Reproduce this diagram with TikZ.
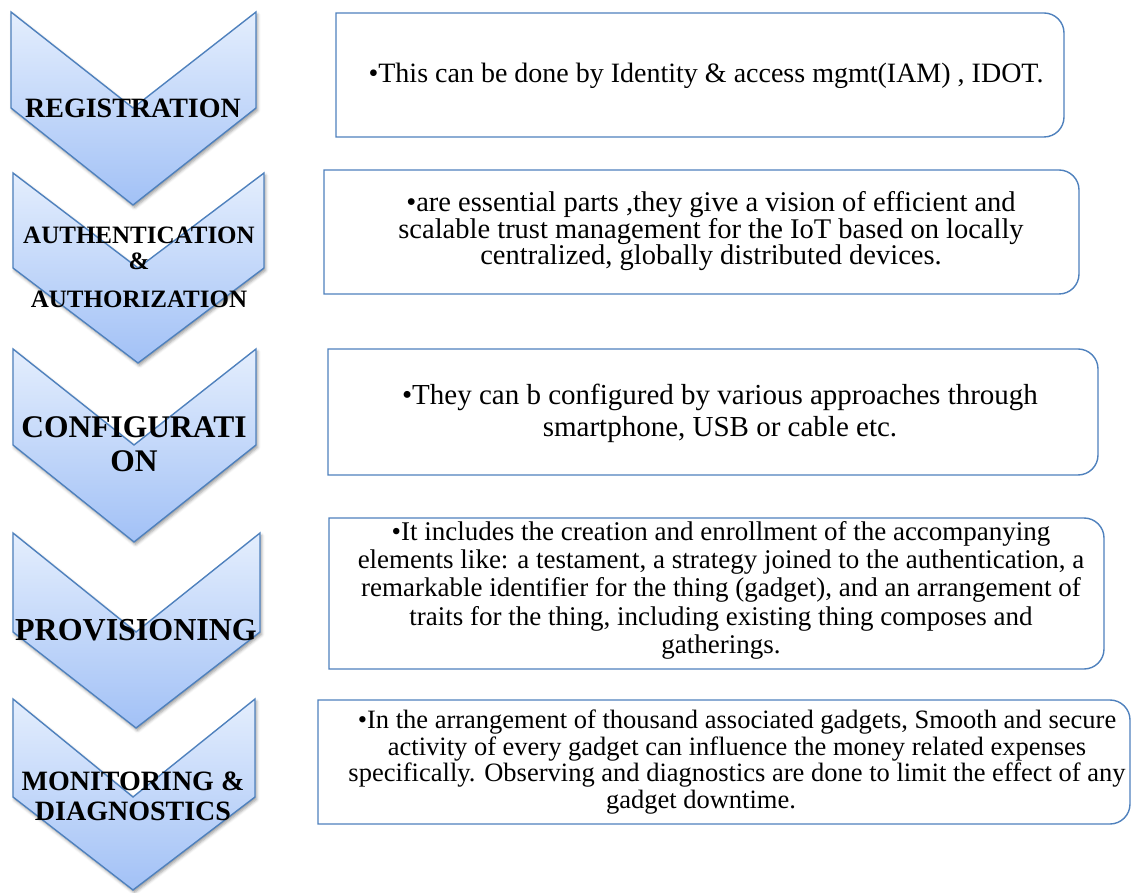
\documentclass[tikz,border=0pt]{standalone}
\usepackage{fontspec}
\setmainfont{Liberation Serif}
\usetikzlibrary{shadows.blur}

\definecolor{edgeblue}{HTML}{4F81BD}
\definecolor{chevtop}{HTML}{E4EEFD}
\definecolor{chevbottom}{HTML}{A2C1F6}

\tikzset{
  chevron/.style={draw=edgeblue, line width=1.4pt, line join=miter,
    top color=chevtop, bottom color=chevbottom,
    blur shadow={shadow xshift=1.5pt, shadow yshift=-2.5pt,
                 shadow blur radius=3pt, shadow opacity=40}},
  infobox/.style={draw=edgeblue, line width=1.4pt, fill=white},
  steplabel/.style={font=\bfseries\fontsize{#1}{#1}\selectfont,
    inner sep=0pt, anchor=base, text=black},
  paneltext/.style={font=\fontsize{#1}{#1}\selectfont,
    inner sep=0pt, anchor=base, text=black},
}

% chevron: left x, right x, middle x, top y, side-end y, tip y
\newcommand\chevronshape[6]{%
  \path[chevron] (#1,#4) -- (#3,#5) -- (#2,#4) -- (#2,#5) -- (#3,#6) -- (#1,#5) -- cycle;}

% text panel, square on the left and rounded on the right: left, right, top, bottom
\newcommand\infopanel[4]{%
  \path[infobox] (#1,#3) -- ({#2-20},#3) arc[start angle=90, end angle=0, radius=20]
    -- (#2,{#4+20}) arc[start angle=0, end angle=-90, radius=20] -- (#1,#4) -- cycle;}

\begin{document}
\begin{tikzpicture}[x=1pt, y=1pt]
\useasboundingbox (0,0) rectangle (1131,892);

% ---- chevrons ----
\chevronshape{11}{256}{133}{880}{784}{687}
\chevronshape{13}{264}{138}{719}{624}{529}
\chevronshape{13}{256}{134}{543}{447}{350}
\chevronshape{13}{260}{136}{359}{260}{164}
\chevronshape{13}{255}{133}{193}{95}{2}

\node[steplabel=28] (reg) at (133,774) {REGISTRATION};
\node[steplabel=25] (auth1) at (139,648) {AUTHENTICATION};
\node[steplabel=25] (auth2) at (139,622) {\&};
\node[steplabel=25] (auth3) at (139,584) {AUTHORIZATION};
\node[steplabel=31.5] (conf1) at (134,454) {CONFIGURATI};
\node[steplabel=31.5] (conf2) at (134,420) {ON};
\node[steplabel=32] (prov) at (136,252) {PROVISIONING};
\node[steplabel=28] (mon1) at (133,102) {MONITORING \&};
\node[steplabel=28] (mon2) at (133,72) {DIAGNOSTICS};

% ---- text panels ----
\infopanel{336}{1064}{879}{755}
\infopanel{324}{1079}{722}{598}
\infopanel{328}{1098}{543}{417}
\infopanel{329}{1104}{374}{223}
\infopanel{318}{1130}{192}{68}

\node[paneltext=28] (p1a) at (706,809) {•This can be done by Identity \& access mgmt(IAM) , IDOT.};

\node[paneltext=28.5] (p2a) at (711,680) {•are essential parts ,they give a vision of efficient and};
\node[paneltext=28.5] (p2b) at (711,653.5) {scalable trust management for the IoT based on locally};
\node[paneltext=28.5] (p2c) at (711,627) {centralized, globally distributed devices.};

\node[paneltext=29] (p3a) at (720,487) {•They can b configured by various approaches through};
\node[paneltext=29] (p3b) at (720,455) {smartphone, USB or cable etc.};

\node[paneltext=27] (p4a) at (721,352) {•It includes the creation and enrollment of the accompanying};
\node[paneltext=27] (p4b) at (721,324) {elements like: a testament, a strategy joined to the authentication, a};
\node[paneltext=27] (p4c) at (721,295.5) {remarkable identifier for the thing (gadget), and an arrangement of};
\node[paneltext=27] (p4d) at (721,267) {traits for the thing, including existing thing composes and};
\node[paneltext=27] (p4e) at (721,239) {gatherings.};

\node[paneltext=26.5] (p5a) at (737,164) {•In the arrangement of thousand associated gadgets, Smooth and secure};
\node[paneltext=26.5] (p5b) at (737,137) {activity of every gadget can influence the money related expenses};
\node[paneltext=26.5] (p5c) at (737,111) {specifically. Observing and diagnostics are done to limit the effect of any};
\node[paneltext=26.5] (p5d) at (701,84) {gadget downtime.};
\end{tikzpicture}
\end{document}
